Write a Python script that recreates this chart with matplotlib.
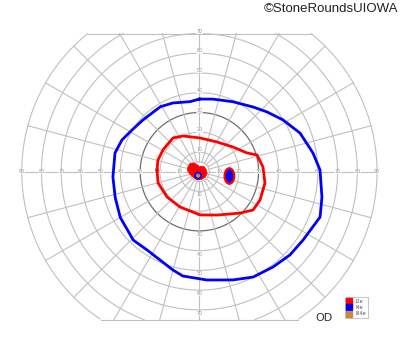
import numpy as np
import matplotlib
matplotlib.use("Agg")
import matplotlib.pyplot as plt
from matplotlib.patches import Ellipse, Circle, Polygon
from matplotlib.lines import Line2D

# ---------------- data ----------------
ring_ecc = [5, 10, 20, 30, 40, 50, 60, 70, 80, 90]
meridians = list(range(0, 360, 15))
h_labels = [10, 20, 30, 40, 50, 60, 70, 80, 90]
v_labels = [10, 20, 30, 40, 50, 60, 70]
top_limit = 70
bottom_limit = 75

# I4e (blue) isopter: meridian angle (deg), eccentricity (deg)
blue_theta = [90, 79.4, 64.4, 50.3, 41.5, 31.8, 21, 9.4, 0.8, -11.7, -20.6, -33.4,
              -42.6, -52.3, -63, -72.8, -86, -99, -105, -114, -123.7, -134, -150,
              -163, -176.5, 167.5, 157.7, 148, 137.5, 121, 111, 97.7]
blue_ecc = [36.8, 37.4, 39.3, 42.6, 45.7, 49.8, 54.6, 58.3, 61.1, 63.4, 65.3, 62.9,
            62.3, 61.0, 59.9, 57.4, 55.0, 53.5, 51.6, 49.0, 47.7, 48.2, 46.3,
            44.6, 43.9, 43.8, 42.4, 40.1, 38.8, 38.4, 37.3, 35.8]

# I2e (red) isopter
red_theta = [177.6, 164.3, 149, 128, 114.6, 89, 59.3, 36.3, 21.5, 16.2, 4.2, -9.8,
             -25, -35.5, -45.5, -67.9, -89, -118.8, -142, -164.8]
red_ecc = [21.5, 21.8, 21.5, 21.7, 19.9, 17.1, 17.5, 21.1, 25.9, 30.4, 32.3, 33.7,
           33.9, 33.4, 29.4, 23.7, 21.9, 20.4, 20.8, 21.7]

# central I2e scotoma outline (x, y in degrees)
cs_x = [-6, -5, -3, -1, 0, 1, 2.5, 3.5, 4, 3, 1, -1, -3, -5, -6]
cs_y = [2, 4, 4.5, 3.5, 2.5, 2.8, 2.5, 1, -1, -2.8, -4, -4.2, -3, -1, 0.5]

# blind spot (center x, y, width, height in degrees)
bs_red = (15.2, -2.2, 6.0, 9.0)
bs_blue = (15.2, -2.2, 3.6, 6.6)
# central small scotomas (center x, y, radius)
c_blue = (-0.7, -2.0, 2.0)
c_orange = (-0.7, -2.0, 1.1)

legend_labels = ["I2e", "I4e", "III4e"]
legend_colors = ["#ff0000", "#0000ff", "#cd853f"]

# ---------------- figure ----------------
W, H = 400, 352
cx, cy, s = 199.4, 171.7, 1.974   # pixel center, px per degree
fig = plt.figure(figsize=(W / 100, H / 100), dpi=100)
ax = fig.add_axes([0, 0, 1, 1])
ax.set_xlim(-cx / s, (W - cx) / s)
ax.set_ylim(-(H - cy) / s, cy / s)
ax.set_aspect("equal")
ax.axis("off")

grid_c = "#c0c0c0"
# rings
phi = np.linspace(0, 2 * np.pi, 721)
for r in ring_ecc:
    x = r * np.cos(phi)
    y = r * np.sin(phi)
    m = (y > top_limit) | (y < -bottom_limit)
    x = np.where(m, np.nan, x)
    y = np.where(m, np.nan, y)
    col = "#6e6e6e" if r == 30 else grid_c
    ax.plot(x, y, color=col, lw=0.9 if r == 30 else 0.8, zorder=1)
# chords
xt = np.sqrt(90 ** 2 - top_limit ** 2)
xb = np.sqrt(90 ** 2 - bottom_limit ** 2)
ax.plot([-xt, xt], [top_limit, top_limit], color=grid_c, lw=0.8, zorder=1)
ax.plot([-xb, xb], [-bottom_limit, -bottom_limit], color=grid_c, lw=0.8, zorder=1)
# meridians
for a in meridians:
    t = np.deg2rad(a)
    rmax = 90
    if np.sin(t) > 1e-6:
        rmax = min(rmax, top_limit / np.sin(t))
    elif np.sin(t) < -1e-6:
        rmax = min(rmax, bottom_limit / -np.sin(t))
    ax.plot([5 * np.cos(t), rmax * np.cos(t)], [5 * np.sin(t), rmax * np.sin(t)],
            color=grid_c, lw=0.8, zorder=1)

# axis labels
lab_kw = dict(fontsize=3.4, color="#8c8c8c", ha="center", va="center", zorder=2,
              bbox=dict(boxstyle="square,pad=0.05", fc="white", ec="none", alpha=0.8))
for v in h_labels:
    ax.text(v, 0, str(v), **lab_kw)
    ax.text(-v, 0, str(v), **lab_kw)
for v in v_labels:
    ax.text(0, v + 1.2, str(v), **lab_kw)
    ax.text(0, -v - 1.8, str(v), **lab_kw)

# isopters
bt = np.deg2rad(blue_theta + blue_theta[:1])
be = np.array(blue_ecc + blue_ecc[:1])
ax.plot(be * np.cos(bt), be * np.sin(bt), color="#0000ff", lw=2.0, zorder=4,
        solid_joinstyle="round")
rt = np.deg2rad(red_theta + red_theta[:1])
re_ = np.array(red_ecc + red_ecc[:1])
ax.plot(re_ * np.cos(rt), re_ * np.sin(rt), color="#ff0000", lw=2.0, zorder=4,
        solid_joinstyle="round")

# scotomas
ax.add_patch(Polygon(np.column_stack([cs_x, cs_y]), closed=True, fc="#ff0000",
                     ec="#ff0000", lw=0.5, zorder=5))
ax.add_patch(Circle(c_blue[:2], c_blue[2], fc="#0000ff", ec="none", zorder=6))
ax.add_patch(Circle(c_orange[:2], c_orange[2], fc="#cd853f", ec="none", zorder=7))
ax.add_patch(Ellipse(bs_red[:2], bs_red[2], bs_red[3], fc="#ff0000", ec="none", zorder=5))
ax.add_patch(Ellipse(bs_blue[:2], bs_blue[2], bs_blue[3], fc="#0000ff", ec="none", zorder=6))

# OD label
fig.text(324 / W, 1 - 318 / H, "OD", fontsize=8, color="#333333", ha="center",
         va="center", family="DejaVu Sans")

# legend
handles = [Line2D([], [], marker="s", ls="none", color=c, markersize=4.2) for c in legend_colors]
leg = fig.legend(handles, legend_labels, loc="upper left",
                 bbox_to_anchor=(345 / W, 1 - 297 / H), fontsize=3.6, frameon=True,
                 fancybox=False, edgecolor="#aaaaaa", handlelength=0.9,
                 handletextpad=0.8, borderpad=0.35, labelspacing=0.25,
                 borderaxespad=0.0)
leg.get_frame().set_linewidth(0.6)
for t in leg.get_texts():
    t.set_color("#555555")

# watermark
fig.text(398 / W, 1 - 9 / H, "\u00a9StoneRoundsUIOWA", fontsize=9.5, color="#222222",
         ha="right", va="center", family="Liberation Sans")

fig.savefig("out.png", dpi=100)
